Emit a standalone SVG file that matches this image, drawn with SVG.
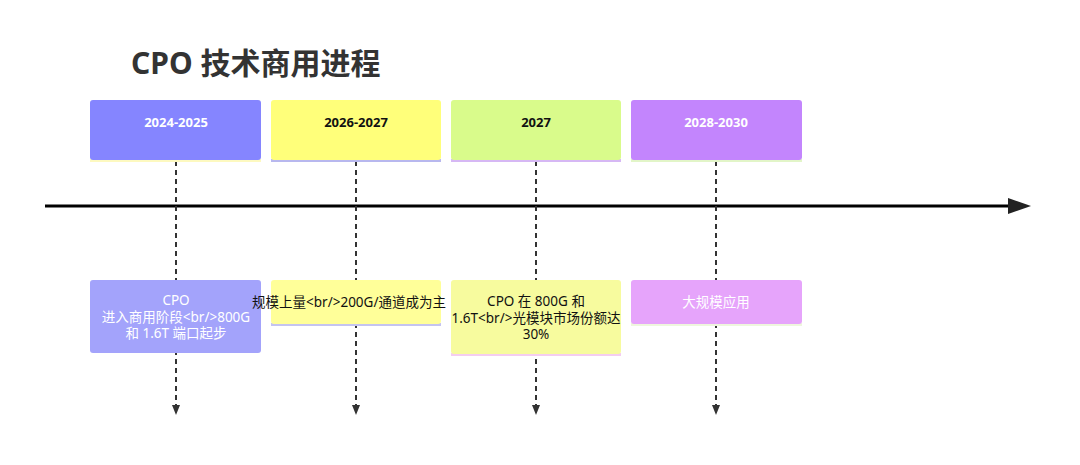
<svg xmlns="http://www.w3.org/2000/svg" width="1080" height="465" viewBox="0 0 1080 465">
<defs>
<style>
text{font-family:"Noto Sans","Noto Sans CJK SC",sans-serif;text-anchor:middle}
.title{font-size:30px;font-weight:bold;fill:#333;text-anchor:start}
.yr{font-size:13px;font-weight:bold}
.ev{font-size:13.5px}
.dash{stroke:#333;stroke-width:2;stroke-dasharray:5,4;fill:none}
</style>
<marker id="ah" viewBox="0 0 10 8" refX="1" refY="4" markerWidth="10" markerHeight="8" markerUnits="userSpaceOnUse" orient="auto">
<path d="M0,0 L10,4 L0,8 Z" fill="#333"/>
</marker>
</defs>
<rect width="1080" height="465" fill="#fff"/>
<text class="title" x="131" y="74">CPO 技术商用进程</text>
<g id="connectors">
<line x1="45" y1="206" x2="1012" y2="206" stroke="#000" stroke-width="3"/>
<polygon points="1008,198 1031,206 1008,214" fill="#222"/>
<line class="dash" x1="176" y1="161" x2="176" y2="406" marker-end="url(#ah)"/>
<line class="dash" x1="356" y1="161" x2="356" y2="406" marker-end="url(#ah)"/>
<line class="dash" x1="536" y1="161" x2="536" y2="406" marker-end="url(#ah)"/>
<line class="dash" x1="716" y1="161" x2="716" y2="406" marker-end="url(#ah)"/>
</g>
<g id="period1">
<rect x="90" y="159" width="171" height="3" fill="#fdf9c0"/>
<rect x="90" y="100" width="171" height="60" rx="3" fill="#8585ff"/>
<text class="yr" x="176" y="127" fill="#fff">2024-2025</text>
</g>
<g id="period2">
<rect x="271" y="159" width="170" height="3" fill="#b8b8ee"/>
<rect x="271" y="100" width="170" height="60" rx="3" fill="#ffff7a"/>
<text class="yr" x="356" y="127" fill="#111">2026-2027</text>
</g>
<g id="period3">
<rect x="451" y="159" width="170" height="3" fill="#d6b8f4"/>
<rect x="451" y="100" width="170" height="60" rx="3" fill="#d9fb8b"/>
<text class="yr" x="536" y="127" fill="#111">2027</text>
</g>
<g id="period4">
<rect x="631" y="159" width="171" height="3" fill="#e2f5c8"/>
<rect x="631" y="100" width="171" height="60" rx="3" fill="#c385fd"/>
<text class="yr" x="716" y="127" fill="#fff">2028-2030</text>
</g>
<g id="event1">
<rect x="90" y="280" width="171" height="73" rx="3" fill="#a3a3fb"/>
<text class="ev" x="176" y="305" fill="#fff">CPO</text>
<text class="ev" x="176" y="321.5" fill="#fff">进入商用阶段&lt;br/&gt;800G</text>
<text class="ev" x="176" y="338" fill="#fff">和 1.6T 端口起步</text>
</g>
<g id="event2">
<rect x="271" y="323" width="170" height="3" fill="#c4c4f0"/>
<rect x="271" y="280" width="170" height="44" rx="3" fill="#ffff99"/>
<text class="ev" x="349" y="307" fill="#111">规模上量&lt;br/&gt;200G/通道成为主</text>
</g>
<g id="event3">
<rect x="451" y="353" width="170" height="3" fill="#f4cdf0"/>
<rect x="451" y="280" width="170" height="74" rx="3" fill="#f7fb9e"/>
<text class="ev" x="536" y="306" fill="#111">CPO 在 800G 和</text>
<text class="ev" x="536" y="322.5" fill="#111">1.6T&lt;br/&gt;光模块市场份额达</text>
<text class="ev" x="536" y="339" fill="#111">30%</text>
</g>
<g id="event4">
<rect x="631" y="323" width="171" height="3" fill="#eef6dd"/>
<rect x="631" y="280" width="171" height="44" rx="3" fill="#e6a4fb"/>
<text class="ev" x="716" y="307" fill="#fff">大规模应用</text>
</g>
</svg>
